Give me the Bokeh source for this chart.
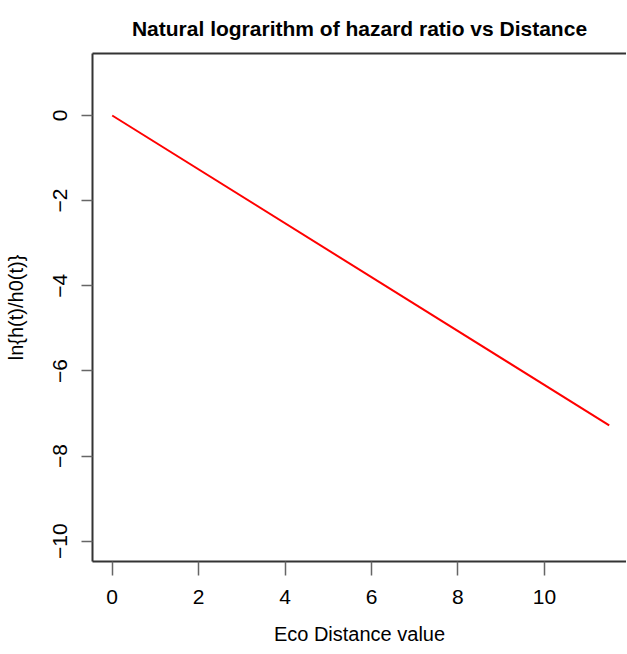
from bokeh.plotting import figure
from bokeh.models import LinearAxis, FixedTicker, Range1d
from bokeh.embed import file_html
from bokeh.resources import INLINE

# Data (line endpoints)
distance = [0.0, 11.5]
log_hazard = [0.0, -7.28]

x_ticks = [0, 2, 4, 6, 8, 10]
y_ticks = [0, -2, -4, -6, -8, -10]

FONT = "Liberation Sans"

p = figure(width=626, height=652, output_backend="svg", toolbar_location=None,
           x_range=Range1d(-0.456, 11.9), y_range=Range1d(-10.477, 1.456),
           min_border_left=92, min_border_right=0, min_border_top=53, min_border_bottom=91,
           title="Natural lograrithm of hazard ratio vs Distance")

p.title.text_font = FONT
p.title.text_font_size = "21px"
p.title.text_font_style = "bold"
p.title.align = "center"
p.title.text_color = "black"
p.title.standoff = 28

p.outline_line_color = None
p.xgrid.grid_line_color = None
p.ygrid.grid_line_color = None
p.background_fill_color = "white"
p.border_fill_color = "white"

p.line(distance, log_hazard, line_color="red", line_width=2)

box_col = "#333333"
tick_col = "#666666"

xa = p.xaxis[0]
xa.ticker = FixedTicker(ticks=x_ticks)
xa.axis_label = "Eco Distance value"
ya = p.yaxis[0]
ya.ticker = FixedTicker(ticks=y_ticks)
ya.axis_label = "ln{h(t)/h0(t)}"
ya.major_label_orientation = "vertical"

for ax, tout in ((xa, 14), (ya, 11)):
    ax.axis_line_color = box_col
    ax.axis_line_width = 2
    ax.major_tick_line_color = tick_col
    ax.major_tick_line_width = 1.5
    ax.major_tick_out = tout
    ax.major_tick_in = 0
    ax.minor_tick_line_color = None
    ax.major_label_text_font = FONT
    ax.major_label_text_font_size = "21px"
    ax.major_label_text_color = "black"
    ax.axis_label_text_font = FONT
    ax.axis_label_text_font_size = "20px"
    ax.axis_label_text_font_style = "normal"
    ax.axis_label_text_color = "black"

xa.major_label_standoff = 14
xa.axis_label_standoff = 16
ya.major_label_standoff = 14
ya.axis_label_standoff = 24

top = LinearAxis(ticker=FixedTicker(ticks=[]), axis_line_color=box_col, axis_line_width=2,
                 major_tick_line_color=None, minor_tick_line_color=None,
                 major_tick_out=0, major_tick_in=0, major_label_standoff=0,
                 axis_label_standoff=0, major_label_text_font_size="0px")
p.add_layout(top, "above")

open("out.html", "w").write(file_html(p, INLINE))
